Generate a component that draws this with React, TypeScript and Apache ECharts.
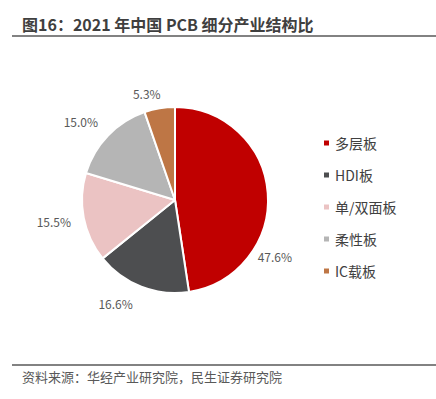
import React, { useEffect, useRef } from "react";
import * as echarts from "echarts";

const categories = ["多层板", "HDI板", "单/双面板", "柔性板", "IC载板"];
const shares = [47.6, 16.6, 15.5, 15.0, 5.3];
const colors = ["#C00000", "#4D4E50", "#EBC3C3", "#B5B5B5", "#BE7645"];
const titleText = "图16：2021 年中国 PCB 细分产业结构比";
const sourceText = "资料来源：华经产业研究院，民生证券研究院";

const FONT = "'Noto Sans CJK SC', 'Noto Sans', sans-serif";
// small per-label nudges (style only) to mimic the original's best-fit label placement
const LABEL_NUDGE: [number, number][] = [[-34, 65], [4, 0], [11, 0], [9, -2], [10, 3]];

export default function App() {
  const ref = useRef<HTMLDivElement>(null);
  useEffect(() => {
    document.body.style.margin = "0";
    const chart = echarts.init(ref.current!, null, { renderer: "svg" });
    chart.setOption({
      animation: false,
      backgroundColor: "#ffffff",
      title: {
        text: titleText,
        left: 17,
        top: 11,
        textStyle: { fontFamily: FONT, fontSize: 16, fontWeight: "bold", color: "#3F3F3F" },
      },
      graphic: [
        { type: "line", shape: { x1: 12, y1: 36, x2: 436, y2: 36 }, style: { stroke: "#595959", lineWidth: 1.5 } },
        { type: "line", shape: { x1: 12, y1: 365, x2: 436, y2: 365 }, style: { stroke: "#595959", lineWidth: 1.5 } },
        {
          type: "text",
          left: 22,
          top: 370,
          style: { text: sourceText, fontFamily: FONT, fontSize: 13, fill: "#595959" },
        },
      ],
      legend: {
        orient: "vertical",
        left: 317,
        top: 131,
        icon: "rect",
        itemWidth: 7,
        itemHeight: 7,
        itemGap: 18,
        itemTextGap: 5,
        data: categories,
        textStyle: { fontFamily: FONT, fontSize: 14, color: "#404040" },
      },
      series: [
        {
          type: "pie",
          center: [175, 200],
          radius: 93,
          startAngle: 90,
          clockwise: true,
          avoidLabelOverlap: false,
          itemStyle: { borderColor: "#ffffff", borderWidth: 2 },
          label: {
            show: true,
            position: "outside",
            formatter: (p: any) => p.value.toFixed(1) + "%",
            fontFamily: FONT,
            fontSize: 12,
            color: "#595959",
          },
          labelLine: { show: false, length: 18, length2: 1 },
          labelLayout: (params: any) => {
            const n = LABEL_NUDGE[params.dataIndex] || [0, 0];
            return { dx: n[0], dy: n[1] };
          },
          data: categories.map((name, i) => ({
            name,
            value: shares[i],
            itemStyle: { color: colors[i] },
          })),
        },
      ],
    });
    return () => chart.dispose();
  }, []);
  return <div ref={ref} style={{ width: 436, height: 399 }} />;
}
